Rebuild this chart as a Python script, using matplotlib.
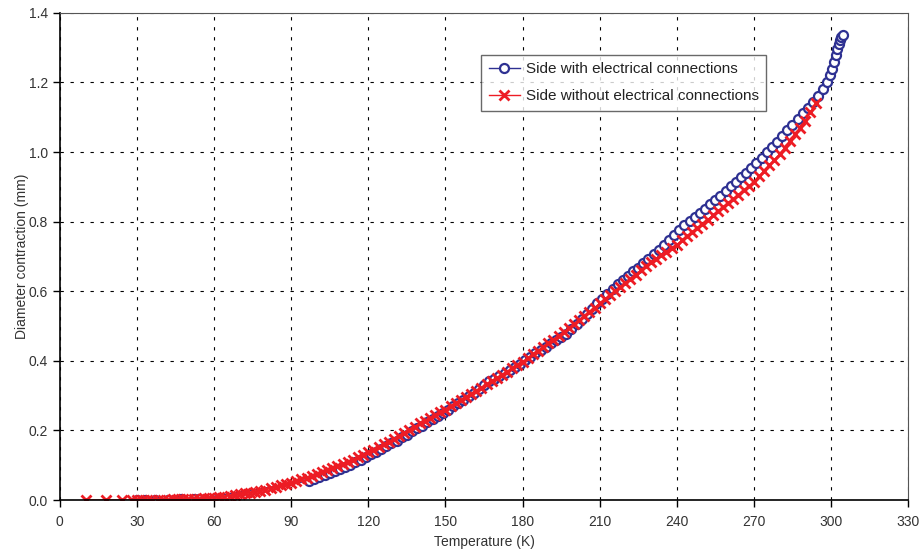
import numpy as np
import matplotlib.pyplot as plt

plt.rcParams['font.family'] = ['Liberation Sans', 'DejaVu Sans']

# Side with electrical connections (blue)
temp_with = [30, 33, 37, 42, 47, 52, 54,
             97, 99, 101, 103, 105, 107, 109, 111, 113, 115, 117, 119, 121, 123,
             125, 127, 129, 131, 133, 135, 137, 139, 141, 143, 145, 147, 149, 151,
             153, 155, 157, 159, 161, 163, 165, 167, 169, 171, 173, 175, 177, 179,
             181, 183, 185, 187, 189, 191, 193, 195, 197, 199, 201, 203, 205, 207,
             209, 211, 213, 215, 217, 219, 221, 223, 225, 227, 229, 231, 233, 235,
             237, 239, 241, 243, 245, 247, 249, 251, 253, 255, 257, 259, 261, 263,
             265, 267, 269, 271, 273, 275, 277, 279, 281, 283, 285, 287, 289, 291,
             293, 295, 297, 298.5, 299.5, 300.5, 301.2, 301.8, 302.4, 303.0, 303.5,
             304.0, 304.5]
contr_with = [0.000, 0.000, 0.001, 0.001, 0.002, 0.004, 0.004,
              0.055, 0.060, 0.065, 0.072, 0.077, 0.083, 0.089, 0.095, 0.102, 0.108,
              0.115, 0.123, 0.131, 0.139, 0.147, 0.155, 0.163, 0.171, 0.180, 0.188,
              0.197, 0.206, 0.214, 0.223, 0.232, 0.241, 0.250, 0.260, 0.269, 0.278,
              0.288, 0.298, 0.308, 0.318, 0.330, 0.342, 0.349, 0.356, 0.364, 0.373,
              0.382, 0.392, 0.402, 0.412, 0.422, 0.432, 0.441, 0.450, 0.459, 0.468,
              0.478, 0.492, 0.506, 0.520, 0.535, 0.550, 0.565, 0.578, 0.592, 0.606,
              0.620, 0.633, 0.645, 0.657, 0.668, 0.680, 0.693, 0.706, 0.719, 0.733,
              0.747, 0.761, 0.775, 0.789, 0.802, 0.813, 0.825, 0.837, 0.850, 0.862,
              0.875, 0.888, 0.901, 0.914, 0.927, 0.940, 0.953, 0.968, 0.984, 1.000,
              1.015, 1.030, 1.046, 1.062, 1.078, 1.094, 1.111, 1.128, 1.145, 1.162,
              1.182, 1.200, 1.220, 1.240, 1.260, 1.280, 1.295, 1.310, 1.322, 1.330,
              1.337]

# Side without electrical connections (red)
temp_without = [10, 18, 24, 28,
                30, 32, 34, 36, 38, 40, 42, 44, 46, 48, 50, 52, 54, 56, 58, 60,
                62, 64, 66, 68, 70, 72, 74, 76, 78, 80, 82, 84, 86, 88, 90, 92,
                94, 96, 98, 100, 102, 104, 106, 108, 110, 112, 114, 116, 118, 120,
                122, 124, 126, 128, 130, 132, 134, 136, 138, 140, 142, 144, 146, 148,
                150, 152, 154, 156, 158, 160, 162, 164, 166, 168, 170, 172, 174, 176,
                178, 180, 182, 184, 186, 188, 190, 192, 194, 196, 198, 200, 202, 204,
                206, 208, 210, 212, 214, 216, 218, 220, 222, 224, 226, 228, 230, 232,
                234, 236, 238, 240, 242, 244, 246, 248, 250, 252, 254, 256, 258, 260,
                262, 264, 266, 268, 270, 272, 274, 276, 278, 280, 282, 284, 286, 288,
                290, 292, 294]
contr_without = [0.000, 0.000, 0.000, 0.000,
                 0.000, 0.000, 0.000, 0.001, 0.001, 0.001, 0.001, 0.002, 0.002, 0.002,
                 0.003, 0.004, 0.004, 0.005, 0.006, 0.007, 0.009, 0.010, 0.012, 0.014,
                 0.016, 0.019, 0.021, 0.024, 0.027, 0.030, 0.034, 0.038, 0.042, 0.046,
                 0.050, 0.055, 0.059, 0.064, 0.069, 0.074, 0.080, 0.085, 0.091, 0.097,
                 0.103, 0.110, 0.116, 0.123, 0.130, 0.137, 0.145, 0.152, 0.160, 0.168,
                 0.176, 0.185, 0.194, 0.202, 0.211, 0.220, 0.228, 0.236, 0.244, 0.252,
                 0.260, 0.269, 0.278, 0.287, 0.296, 0.305, 0.314, 0.323, 0.332, 0.341,
                 0.350, 0.360, 0.369, 0.379, 0.388, 0.398, 0.408, 0.419, 0.429, 0.440,
                 0.450, 0.461, 0.472, 0.483, 0.494, 0.505, 0.517, 0.529, 0.541, 0.553,
                 0.565, 0.577, 0.589, 0.600, 0.612, 0.624, 0.636, 0.648, 0.660, 0.672,
                 0.684, 0.694, 0.704, 0.714, 0.724, 0.734, 0.746, 0.758, 0.770, 0.782,
                 0.794, 0.806, 0.818, 0.830, 0.842, 0.854, 0.866, 0.878, 0.890, 0.902,
                 0.914, 0.930, 0.946, 0.962, 0.978, 0.994, 1.013, 1.032, 1.051, 1.070,
                 1.090, 1.115, 1.140]

labels = ["Side with electrical connections", "Side without electrical connections"]

fig = plt.figure(figsize=(9.21, 5.59), dpi=100)
ax = fig.add_axes([0.065, 0.1055, 0.921, 0.8715])

ax.plot(temp_with, contr_with, color="#2e3192", linewidth=1.0, marker="o",
        markersize=6.5, markerfacecolor="white", markeredgecolor="#2e3192",
        markeredgewidth=1.6, label=labels[0])
ax.plot(temp_without, contr_without, color="#ed1c24", linewidth=1.0, marker="x",
        markersize=7, markeredgewidth=2.0, label=labels[1])

ax.set_xlim(0, 330)
ax.set_ylim(0, 1.4)
ax.set_xticks(np.arange(0, 331, 30))
ax.set_yticks(np.arange(0, 1.41, 0.2))
ax.yaxis.set_major_formatter(plt.FormatStrFormatter("%.1f"))
ax.grid(True, color="black", linestyle=(0, (3, 6)), linewidth=0.8)

for s in ["left", "bottom"]:
    ax.spines[s].set_color("black")
    ax.spines[s].set_linewidth(1.2)
for s in ["top", "right"]:
    ax.spines[s].set_color("#555555")
    ax.spines[s].set_linewidth(0.8)

ax.tick_params(direction="out", length=5, width=1, labelsize=10,
               colors="black", labelcolor="#333333")
ax.tick_params(axis="x", pad=6)
ax.set_xlabel("Temperature (K)", fontsize=10, color="#333333", labelpad=4)
ax.set_ylabel("Diameter contraction (mm)", fontsize=10, color="#333333", labelpad=0)

leg = ax.legend(loc="upper left", bbox_to_anchor=(0.497, 0.914), fontsize=11,
                frameon=True, fancybox=False, edgecolor="#444444",
                borderaxespad=0, handlelength=2.0, handletextpad=0.4,
                borderpad=0.5, labelspacing=0.85)
leg.get_frame().set_linewidth(1.0)
for t in leg.get_texts():
    t.set_color("#222222")

fig.savefig("out.png", dpi=100)
